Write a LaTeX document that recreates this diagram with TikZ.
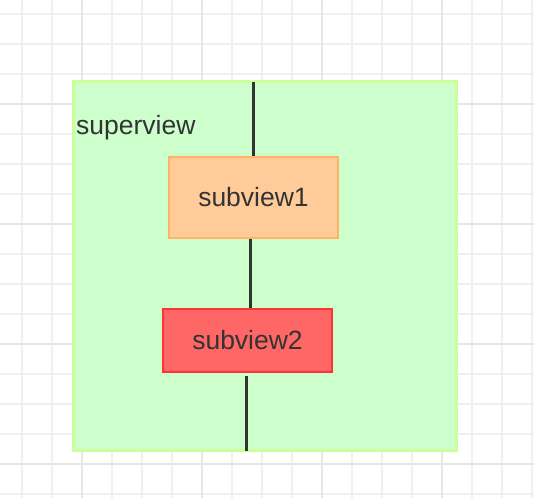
\documentclass[tikz,border=0pt]{standalone}
\usepackage{fontspec}
\setmainfont{Liberation Sans}
\definecolor{gridminor}{HTML}{F0F0F0}
\definecolor{gridmajor}{HTML}{E6E6E6}
\definecolor{supF}{HTML}{CCFFCC}
\definecolor{supB}{HTML}{CCFF99}
\definecolor{oF}{HTML}{FFCC99}
\definecolor{oB}{HTML}{FFB366}
\definecolor{rF}{HTML}{FF6666}
\definecolor{rB}{HTML}{FF3333}
\definecolor{txt}{HTML}{333333}
\begin{document}
\begin{tikzpicture}[x=1pt,y=-1pt,
  box/.style={draw, line width=2.5pt, inner sep=0pt, text=txt, font=\fontsize{26.5}{31}\selectfont},
  lbl/.style={inner sep=0pt, text=txt, font=\fontsize{26.5}{31}\selectfont},
  link/.style={draw=txt, line width=3pt},
  gmin/.style={draw=gridminor, line width=1.5pt},
  gmaj/.style={draw=gridmajor, line width=1.5pt}]
\useasboundingbox (0,0) rectangle (534,498);
\fill[white] (0,0) rectangle (534,498);
\foreach \x in {22,52,...,532} \draw[gmin] (\x,0) -- (\x,498);
\foreach \y in {14,44,...,494} \draw[gmin] (0,\y) -- (534,\y);
\foreach \x in {82,202,322,442} \draw[gmaj] (\x,0) -- (\x,498);
\foreach \y in {104,224,344,464} \draw[gmaj] (0,\y) -- (534,\y);
\node[box, draw=supB, fill=supF, minimum width=383pt, minimum height=369pt, anchor=north west] (super) at (72,80) {};
\node[lbl, anchor=base west] (suplbl) at (76,134) {superview};
\node[box, draw=oB, fill=oF, minimum width=169pt, minimum height=81pt] (sub1) at (253.5,197.5) {subview1};
\node[box, draw=rB, fill=rF, minimum width=169pt, minimum height=63pt] (sub2) at (247.5,340.5) {subview2};
\coordinate (top) at (253.5,82);
\coordinate (mid) at (250,0);
\coordinate (b1) at (246,376);
\coordinate (b2) at (246,451);
\draw[link] (top) -- (sub1.north);
\draw[link] (sub1.south -| mid) -- (sub2.north -| mid);
\draw[link] (b1) -- (b2);
\end{tikzpicture}
\end{document}
